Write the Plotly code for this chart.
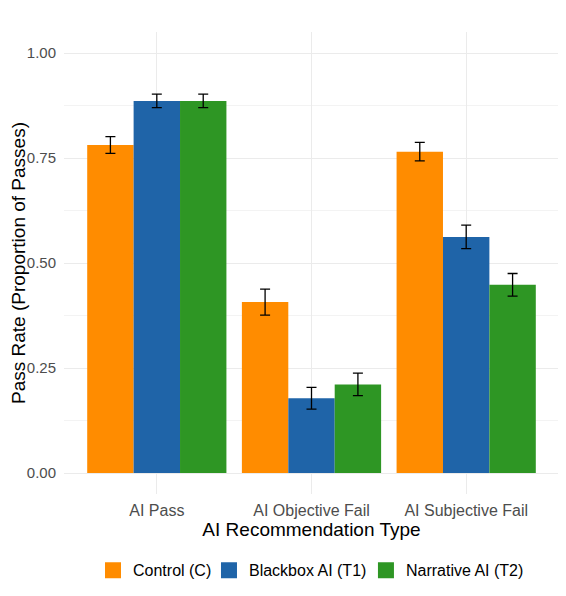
import plotly.graph_objects as go

categories = ["AI Pass", "AI Objective Fail", "AI Subjective Fail"]
groups = ["Control (C)", "Blackbox AI (T1)", "Narrative AI (T2)"]
colors = ["#FF8C00", "#1F64A8", "#2E9624"]

control = [0.781, 0.407, 0.765]
control_se = [0.020, 0.031, 0.022]
blackbox = [0.886, 0.178, 0.562]
blackbox_se = [0.016, 0.026, 0.028]
narrative = [0.886, 0.211, 0.448]
narrative_se = [0.016, 0.027, 0.027]

values = [control, blackbox, narrative]
errors = [control_se, blackbox_se, narrative_se]

fig = go.Figure()
for name, col, vals, err in zip(groups, colors, values, errors):
    fig.add_trace(go.Bar(
        x=categories, y=vals, name=name, marker_color=col, marker_line_width=0,
        error_y=dict(type="data", array=err, color="black", thickness=1.3, width=5),
        showlegend=False, legendgroup=name,
    ))

# one legend per key so the spacing matches ggplot's tighter layout
legend_ids = ["legend", "legend2", "legend3"]
legend_x = [0.0586, 0.2929, 0.610]
for name, col, lid in zip(groups, colors, legend_ids):
    fig.add_trace(go.Scatter(
        x=[None], y=[None], mode="markers", name=name, legendgroup=name, legend=lid,
        marker=dict(symbol="square", size=20, color=col),
    ))

grid = "#EBEBEB"
legend_style = dict(orientation="h", y=-0.165, xanchor="left", yanchor="middle",
                    font=dict(size=16), itemwidth=30, bgcolor="rgba(0,0,0,0)")
fig.update_layout(
    width=558, height=588,
    barmode="group", bargap=0.1, bargroupgap=0,
    plot_bgcolor="white", paper_bgcolor="white",
    font=dict(family="Liberation Sans, Arial, sans-serif", color="black"),
    margin=dict(l=56, r=7, t=24, b=102),
    legend=dict(x=legend_x[0], **legend_style),
    legend2=dict(x=legend_x[1], **legend_style),
    legend3=dict(x=legend_x[2], **legend_style),
    xaxis=dict(
        range=[-0.6, 2.6], showgrid=True, gridcolor=grid, gridwidth=1.2,
        ticks="outside", ticklen=2, tickcolor="rgba(0,0,0,0)",
        tickfont=dict(size=16, color="#4D4D4D"),
        title=dict(text="AI Recommendation Type", font=dict(size=19), standoff=2),
        zeroline=False, showline=False, automargin=False,
    ),
    yaxis=dict(
        range=[-0.05, 1.05], tickvals=[0, 0.25, 0.5, 0.75, 1.0],
        ticktext=["0.00", "0.25", "0.50", "0.75", "1.00"],
        showgrid=True, gridcolor=grid, gridwidth=1.2,
        minor=dict(tickvals=[0.125, 0.375, 0.625, 0.875], showgrid=True, gridcolor="#F3F3F3", gridwidth=0.8),
        ticks="outside", ticklen=4, tickcolor="rgba(0,0,0,0)",
        tickfont=dict(size=15, color="#4D4D4D"),
        title=dict(text="Pass Rate (Proportion of Passes)", font=dict(size=19), standoff=6),
        zeroline=False, showline=False, automargin=False,
    ),
)

fig.write_html("out.html")
